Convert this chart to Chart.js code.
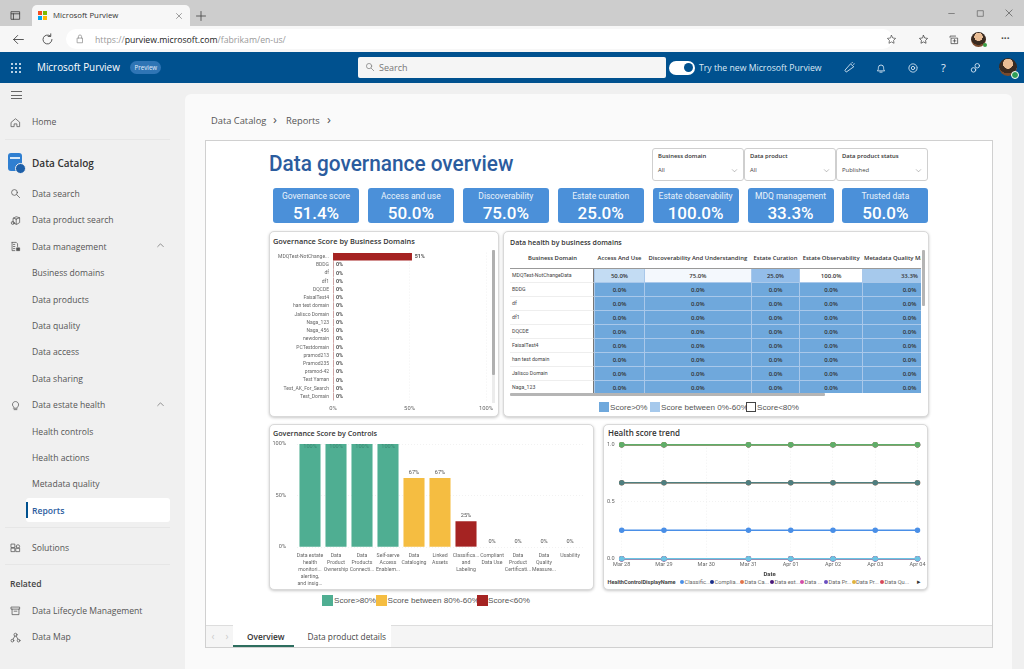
<!DOCTYPE html>
<html lang="en">
<head>
<meta charset="utf-8">
<title>Data governance overview</title>
<script src="https://cdn.jsdelivr.net/npm/chart.js"></script>
<style>
  html, body { margin: 0; padding: 0; background: #f0f0f0; overflow: hidden; }
  #page { position: relative; width: 1024px; height: 669px; overflow: hidden; font-family: "Open Sans", sans-serif; color: #444; }
  #page div, #page canvas, #page svg { position: absolute; }
  .t { white-space: nowrap; transform: translateY(-50%); line-height: 1.2; }
  .card { background: #fff; border: 1px solid #d9d9d9; border-radius: 5px; box-shadow: 0 1px 3px rgba(0,0,0,.22); box-sizing: border-box; }
  .kpi { background: #4b90d9; border-radius: 3px; color: #fff; text-align: center; font-family: Roboto, sans-serif; }
  .filter { background: #fff; border: 1px solid #cfcfcf; border-radius: 3px; box-sizing: border-box; }
  #healthTable { border-collapse: separate; border-spacing: 0; table-layout: fixed; font-size: 6px; color: #333; line-height: 1; }
  #healthTable th { font-weight: 600; font-size: 5.900px; height: 19px; box-sizing: border-box; padding: 0 0 0 1px; text-align: center; white-space: nowrap; overflow: hidden; border-bottom: 1px solid #999; color: #333; }
  #healthTable th:last-child { text-align: left; padding-left: 2px; }
  #healthTable td { height: 14px; box-sizing: border-box; padding: 0; text-align: center; font-weight: 600; border-bottom: 1px solid #a9c8ea; border-left: 1px solid #a9c8ea; }
  #healthTable td:first-child { font-family: Roboto, sans-serif; font-size: 5.200px; text-align: left; font-weight: 400; padding-left: 2px; border-left: 0; border-right: 1px solid #777; border-bottom: 1px solid #eee; background: #fff; color: #444; }
</style>
</head>
<body>
<div id="page"></div>
<script>
// ---- chart values ----
const domainNames = ['MDQTest-NotChange...', 'BDDG', 'df', 'df1', 'DQCDE', 'FaisalTest4', 'han test domain', 'Jalisco Domain', 'Naga_123', 'Naga_456', 'newdomain', 'PCTestdomain', 'pramod213', 'Pramod235', 'pramod-42', 'Test Yaman', 'Test_AK_For_Search', 'Test_Domain'];
const domainScores = [51.4, 0, 0, 0, 0, 0, 0, 0, 0, 0, 0, 0, 0, 0, 0, 0, 0, 0];
const domainTicks = [0, 50, 100];

const controlLabels = [
  ['Data estate', 'health', 'monitori...', 'alerting,', 'and insig...'],
  ['Data', 'Product', 'Ownership'],
  ['Data', 'Products', 'Connecti...'],
  ['Self-serve', 'Access', 'Enablem...'],
  ['Data', 'Cataloging'],
  ['Linked', 'Assets'],
  ['Classifica...', 'and', 'Labeling'],
  ['Compliant', 'Data Use'],
  ['Data', 'Product', 'Certificati...'],
  ['Data', 'Quality', 'Measure...'],
  ['Usability']
];
const controlScores = [100, 100, 100, 100, 67, 67, 25, 0, 0, 0, 0];

const trendDates = ['Mar 28', 'Mar 29', 'Mar 30', 'Mar 31', 'Apr 01', 'Apr 02', 'Apr 03', 'Apr 04'];
const classificationTrend = [0.25, 0.25, null, 0.25, 0.25, 0.25, 0.25, 0.25];
const complianceTrend = [0, 0, null, 0, 0, 0, 0, 0];
const catalogingTrend = [0.667, 0.667, null, 0.667, 0.667, 0.667, 0.667, 0.667];
const estateTrend = [1, 1, null, 1, 1, 1, 1, 1];
const certificationTrend = [0, 0, null, 0, 0, 0, 0, 0];
const ownershipTrend = [1, 1, null, 1, 1, 1, 1, 1];
const connectionTrend = [1, 1, null, 1, 1, 1, 1, 1];
const qualityTrend = [0, 0, null, 0, 0, 0, 0, 0];
const linkedTrend = [0.667, 0.667, null, 0.667, 0.667, 0.667, 0.667, 0.667];
const selfServeTrend = [1, 1, null, 1, 1, 1, 1, 1];
const usabilityTrend = [0, 0, null, 0, 0, 0, 0, 0];
const trendLegend = ['Classific...', 'Complia...', 'Data Ca...', 'Data est...', 'Data ...', 'Data Pr...', 'Data Pr...', 'Data Qu...'];

const tableColumns = ['Business Domain', 'Access And Use', 'Discoverability And Understanding', 'Estate Curation', 'Estate Observability', 'Metadata Quality Management'];
const tableDomains = ['MDQTest-NotChangeData', 'BDDG', 'df', 'df1', 'DQCDE', 'FaisalTest4', 'han test domain', 'Jalisco Domain', 'Naga_123'];
const accessScores = [50, 0, 0, 0, 0, 0, 0, 0, 0];
const discoverScores = [75, 0, 0, 0, 0, 0, 0, 0, 0];
const curationScores = [25, 0, 0, 0, 0, 0, 0, 0, 0];
const observabilityScores = [100, 0, 0, 0, 0, 0, 0, 0, 0];
const metadataScores = [33.3, 0, 0, 0, 0, 0, 0, 0, 0];

const kpiNames = ['Governance score', 'Access and use', 'Discoverability', 'Estate curation', 'Estate observability', 'MDQ management', 'Trusted data'];
const kpiValues = ['51.4%', '50.0%', '75.0%', '25.0%', '100.0%', '33.3%', '50.0%'];

// ---- page helpers ----
const page = document.getElementById('page');

function box(x, y, w, h, css, cls) {
    const d = document.createElement('div');
    d.style.cssText = `left:${x}px;top:${y}px;width:${w}px;height:${h}px;${css || ''}`;
    if (cls) d.className = cls;
    page.appendChild(d);
    return d;
}

// y is the vertical centre of the text
function text(x, y, str, css) {
    const d = document.createElement('div');
    d.className = 't';
    d.style.cssText = `left:${x}px;top:${y}px;${css || ''}`;
    d.textContent = str;
    page.appendChild(d);
    return d;
}

function icon(x, y, size, body, color) {
    const wrap = document.createElement('div');
    wrap.style.cssText = `left:${x - size / 2}px;top:${y - size / 2}px;width:${size}px;height:${size}px;`;
    wrap.innerHTML = `<svg viewBox="0 0 16 16" width="${size}" height="${size}" style="left:0;top:0" fill="none" stroke="${color || '#555'}" stroke-width="1.1" stroke-linecap="round" stroke-linejoin="round">${body}</svg>`;
    page.appendChild(wrap);
}

const icons = {
    home: '<path d="M2 7.5 8 2.5l6 5V14h-4v-4H6v4H2z"/>',
    search: '<circle cx="6.5" cy="6.5" r="4.2"/><path d="m10 10 4 4"/>',
    cube: '<path d="M5 4.5 9 2.5l5 1.5v7l-4 2.5-5-1.5zM9 6l5-2M9 6v7.5M9 6 5 4.5"/><circle cx="4" cy="11.5" r="2.2"/>',
    mgmt: '<path d="M3 2h6l2 2v4M3 2v12h4M5 5h2M5 8h2M5 11h2"/><path d="M10 10h4v4h-4z" fill="#555"/>',
    bulb: '<path d="M5.5 10.5a4.5 4.5 0 1 1 5 0V12h-5zM6 14h4"/>',
    solutions: '<path d="M2 3h5v5H2zM2 9h5v5H2zM9 9h5v5H9zM9 6.500a2.500 2.500 0 1 1 5 0 2.500 2.500 0 0 1-5 0"/>',
    archive: '<path d="M2 3h12v3H2zM3 6v8h10V6M6 9h4"/>',
    map: '<circle cx="8" cy="4" r="2.200"/><circle cx="3.500" cy="12.500" r="2"/><circle cx="12.500" cy="12.500" r="2"/><path d="M7 6 4.500 10.500M9 6l2.500 4.500"/>',
    chevUp: '<path d="m3 10 5-5 5 5"/>',
    chevDown: '<path d="m3 6 5 5 5-5"/>',
    close: '<path d="m3 3 10 10M13 3 3 13"/>',
    plus: '<path d="M8 2v12M2 8h12"/>',
    back: '<path d="M14 8H2m5-5L2 8l5 5"/>',
    reload: '<path d="M13.500 8A5.500 5.500 0 1 1 11.500 3.700M12 1v3.200H8.800"/>',
    lock: '<path d="M4 6.500h8V14H4zM5.500 6.500V4a2.500 2.500 0 0 1 5 0v2.500"/>',
    star: '<path d="m8 2 1.800 3.800 4.200.6-3 2.900.7 4.200L8 11.500l-3.700 2 .7-4.200-3-2.900 4.200-.6z"/>',
    bell: '<path d="M3.500 11.500c1-1 1-2 1-4a3.500 3.500 0 0 1 7 0c0 2 0 3 1 4zM6.500 13.500h3"/>',
    gear: '<circle cx="8" cy="8" r="2.200"/><circle cx="8" cy="8" r="5.500" stroke-dasharray="2.400 1"/>',
    people: '<circle cx="6" cy="10.500" r="3"/><circle cx="11" cy="5" r="3"/>',
    megaphone: '<path d="M4 13 2.500 11 10 2.500l4 3.500zM11.500 1.500l1-1M14 3l1-.5"/>',
    collections: '<path d="M3 5V3h8M5 6h9v8H5zM9.500 8v4M7.500 10h4"/>',
    panel: '<path d="M2 2.500h12v11H2zM2 5.500h12M5 5.500v8"/>',
    minus: '<path d="M3 8h10"/>',
    restore: '<path d="M3 3h10v10H3z"/>'
};

function avatar(x, y, r) {
    const d = box(x - r, y - r, r * 2, r * 2, 'border-radius:50%;background:radial-gradient(circle at 50% 32%,#e9bd95 0 32%,#3a2a20 34% 62%,#7a4a2c 64%);');
    return d;
}

// ---- browser frame ----
box(0, 0, 1024, 26, 'background:#cdcdcd;');
box(32, 5, 158, 22, 'background:#f7f7f7;border-radius:5px 5px 0 0;');
icon(15, 15, 11, icons.panel, '#333');
box(38, 11, 4, 4, 'background:#f25022;');
box(43, 11, 4, 4, 'background:#7fba00;');
box(38, 16, 4, 4, 'background:#00a4ef;');
box(43, 16, 4, 4, 'background:#ffb900;');
text(53, 15.5, 'Microsoft Purview', 'font-size:7.800px;color:#333;');
icon(179, 15.500, 8, icons.close, '#555');
icon(201, 15.500, 12, icons.plus, '#444');
icon(951, 13, 9, icons.minus, '#555');
icon(980, 13, 9, icons.restore, '#555');
icon(1009, 13, 10, icons.close, '#555');
box(0, 26, 1024, 26, 'background:#f7f7f7;');
box(66, 29, 827, 20, 'background:#fff;border-radius:10px;');
icon(18, 39, 13, icons.back, '#444');
icon(47, 39, 13, icons.reload, '#444');
icon(80, 39, 10, icons.lock, '#888');
const url = text(95, 39.500, '', 'font-size:8.700px;color:#999;');
url.innerHTML = 'https://<span style="color:#222">purview.microsoft.com</span>/fabrikam/en-us/';
icon(891, 39, 11, icons.star, '#555');
icon(923, 39, 11, icons.star, '#444');
icon(953, 39, 11, icons.collections, '#444');
avatar(978, 39, 7.500);
box(983, 43, 4, 4, 'background:#3a9d46;border-radius:50%;');
text(1001, 38, '···', 'font-size:10px;color:#444;font-weight:700;');

// ---- purview header ----
box(0, 52, 1024, 31, 'background:#00518f;');
for (let i = 0; i < 3; i++) {
    for (let j = 0; j < 3; j++) {
        box(11 + i * 4, 63 + j * 4, 1.500, 1.500, 'background:#dce9f5;border-radius:50%;');
    }
}
text(37, 68, 'Microsoft Purview', 'font-size:9.900px;color:#fff;font-weight:500;');
box(130, 61, 31, 13, 'background:#2f75b5;border-radius:7px;');
text(134.500, 67.500, 'Preview', 'font-size:6.200px;color:#e6f0fa;');
box(358, 57, 308, 21, 'background:#f5f5f5;border-radius:2px;');
icon(370, 67, 10, icons.search, '#777');
text(379, 67.500, 'Search', 'font-size:9px;color:#777;');
box(669, 60.500, 26, 14, 'background:#fff;border-radius:7px;');
box(684, 63, 9, 9, 'background:#00518f;border-radius:50%;');
text(699, 68, 'Try the new Microsoft Purview', 'font-size:8.700px;color:#dce9f5;');
icon(849, 68, 12, icons.megaphone, '#e6f0fa');
icon(881, 67.500, 12, icons.bell, '#e6f0fa');
icon(913, 67.500, 12, icons.gear, '#e6f0fa');
text(941, 67.500, '?', 'font-size:11px;color:#e6f0fa;');
icon(975, 67.500, 12, icons.people, '#e6f0fa');
avatar(1008, 67, 9);
box(1011, 71, 6, 6, 'background:#2f9e56;border-radius:50%;border:.5px solid #fff;');

// ---- side navigation ----
box(10.500, 91, 11, 1, 'background:#666;');
box(10.500, 94.500, 11, 1, 'background:#666;');
box(10.500, 98, 11, 1, 'background:#666;');
const navItems = [
    ['Home', 122, icons.home], ['Data search', 193.500, icons.search], ['Data product search', 220, icons.cube],
    ['Data management', 246.500, icons.mgmt], ['Business domains', 273], ['Data products', 299.500],
    ['Data quality', 326], ['Data access', 352], ['Data sharing', 378.500],
    ['Data estate health', 405, icons.bulb], ['Health controls', 431.500], ['Health actions', 458],
    ['Metadata quality', 484], ['Solutions', 547.500, icons.solutions],
    ['Data Lifecycle Management', 610.500, icons.archive], ['Data Map', 637, icons.map]
];
navItems.forEach(function(item) {
    text(32, item[1], item[0], 'font-size:8.600px;color:#555;');
    if (item[2]) icon(15.500, item[1], 11, item[2], '#555');
});
box(5, 139, 165, 1, 'background:#e6e6e6;');
box(5, 527, 165, 1, 'background:#e6e6e6;');
box(5, 564, 165, 1, 'background:#e6e6e6;');
box(7.500, 153, 14, 18, 'background:#2f7fd1;border-radius:3px;');
box(9.500, 157, 10, 2, 'background:#d8e9f8;');
box(15, 163, 9, 9, 'background:#1d5fa8;border-radius:50%;border:1px solid #f0f0f0;');
text(32, 163, 'Data Catalog', 'font-size:10px;color:#333;font-weight:600;');
icon(160, 245.500, 9, icons.chevUp, '#555');
icon(160, 404, 9, icons.chevUp, '#555');
box(26, 498, 144, 24, 'background:#fff;border-radius:3px;');
box(26, 502, 2, 16, 'background:#00518f;');
text(32, 510.500, 'Reports', 'font-size:8.600px;color:#2b5c9e;font-weight:600;');
text(10, 584, 'Related', 'font-size:8.600px;color:#444;font-weight:600;');

// ---- main panel ----
box(185, 94, 827, 575, 'background:#fafafa;border-radius:6px 6px 0 0;');
text(211, 120.500, 'Data Catalog', 'font-size:9.300px;color:#555;');
text(273, 120, '›', 'font-size:13px;color:#555;');
text(286, 120.500, 'Reports', 'font-size:9.300px;color:#555;');
text(327, 120, '›', 'font-size:13px;color:#555;');
box(205, 140, 788, 508, 'background:#fff;border:1px solid #d0d0d0;box-sizing:border-box;');
box(206, 625, 786, 22, 'background:#f5f5f5;border-top:1px solid #ddd;box-sizing:border-box;');
box(233, 625, 61, 22, 'background:#fff;border-bottom:2px solid #2d6e5f;box-sizing:border-box;');
box(294, 625, 97, 22, 'background:#fff;');
text(247, 636.500, 'Overview', 'font-size:8.300px;color:#333;font-weight:600;');
text(307.500, 636.500, 'Data product details', 'font-size:8.300px;color:#444;');
text(211.500, 636, '‹', 'font-size:10px;color:#ccc;');
text(225.500, 636, '›', 'font-size:10px;color:#ccc;');

// ---- report header ----
text(269, 164, 'Data governance overview', 'font-size:22px;color:#2b5c9e;font-family:Roboto;font-weight:500;transform-origin:left center;transform:translateY(-50%) scaleX(.945);');
const filters = [['Business domain', 'All'], ['Data product', 'All'], ['Data product status', 'Published']];
filters.forEach(function(f, i) {
    const x = 652 + i * 92;
    box(x, 148, 92, 33, '', 'filter');
    text(x + 6, 157, f[0], 'font-size:5.900px;color:#333;font-weight:600;');
    text(x + 6, 170.500, f[1], 'font-size:5.900px;color:#444;');
    icon(x + 82, 170, 7, icons.chevDown, '#777');
});
kpiNames.forEach(function(name, i) {
    const x = 273 + i * 94.900;
    box(x, 188, 86, 35, '', 'kpi');
    text(x + 43, 196, name, 'font-size:8.500px;color:#eaf3fb;font-family:Roboto;transform:translate(-50%,-50%);');
    text(x + 43, 212.500, kpiValues[i], 'font-size:17px;color:#fff;font-family:Roboto;font-weight:500;transform:translate(-50%,-50%);');
});

// ---- chart cards ----
box(269, 231, 230, 186, '', 'card');
box(503, 231, 426, 186, '', 'card');
box(269, 424, 325, 166, '', 'card');
box(603, 424, 325, 166, '', 'card');
const cardTitle = 'color:#333;font-weight:600;';
text(273, 240.500, 'Governance Score by Business Domains', cardTitle + 'font-size:7.400px;');
text(510, 243, 'Data health by business domains', cardTitle + 'font-size:7px;');
text(273, 433, 'Governance Score by Controls', cardTitle + 'font-size:7.200px;');
text(608, 433, 'Health score trend', cardTitle + 'font-size:8px;');

// heat table, colour follows the score
const cellStops = { 0: '#6fa8dc', 25: '#93bde9', 33.3: '#a6c9ec', 50: '#c3dcf3', 75: '#f4f8fd', 100: '#ffffff' };
const tableWrap = box(510, 250, 411, 143, 'overflow:hidden;');
const columnWidths = [84, 50, 106.700, 48.600, 62.700, 94];
const scoreColumns = [accessScores, discoverScores, curationScores, observabilityScores, metadataScores];
let tableHtml = '<table id="healthTable" style="width:' + columnWidths.reduce(function(a, b) { return a + b; }) + 'px"><colgroup>';
columnWidths.forEach(function(w) { tableHtml += '<col style="width:' + w + 'px">'; });
tableHtml += '</colgroup><tr>';
tableColumns.forEach(function(c) { tableHtml += '<th>' + c + '</th>'; });
tableHtml += '</tr>';
tableDomains.forEach(function(name, row) {
    tableHtml += '<tr><td>' + name + '</td>';
    scoreColumns.forEach(function(col) {
        tableHtml += '<td style="background:' + cellStops[col[row]] + '">' + col[row].toFixed(1) + '%</td>';
    });
    tableHtml += '</tr>';
});
tableWrap.innerHTML = tableHtml + '</table>';
box(922, 250, 2.500, 56, 'background:#b5b5b5;border-radius:1px;');
box(510, 393, 315, 2.500, 'background:#b5b5b5;border-radius:1px;');
box(491.500, 250, 3, 153, 'background:#ececec;');
box(491.500, 250, 3, 125, 'background:#b0b0b0;border-radius:1px;');

// legends under the cards
const legendFont = 'font-size:8.100px;color:#555;font-family:"Liberation Sans";';
box(599, 402, 10, 10, 'background:#6fa8dc;');
text(610, 407.500, 'Score>0%', legendFont);
box(650, 402, 10, 10, 'background:#a6c9ec;');
text(661, 407.500, 'Score between 0%-60%', legendFont);
box(746, 402, 10, 10, 'background:#fff;border:1px solid #444;box-sizing:border-box;');
text(757, 407.500, 'Score<80%', legendFont);
box(322, 595, 11, 11, 'background:#4fae92;');
text(334, 600.500, 'Score>80%', legendFont);
box(376, 595, 11, 11, 'background:#f5bd41;');
text(387.500, 600.500, 'Score between 80%-60%', legendFont);
box(476.500, 595, 11, 11, 'background:#a52322;');
text(488, 600.500, 'Score<60%', legendFont);

// trend legend
text(607.500, 582, 'HealthControlDisplayName', 'font-size:5.600px;color:#444;font-weight:700;font-family:Roboto;');
const legendColors = ['#4a8fe7', '#1a2f8a', '#e2744a', '#4a1a7a', '#d14da8', '#6a4fc0', '#e0b23c', '#d6485a'];
const legendOffsets = [680, 710, 740, 770, 800, 824, 851.500, 880];
trendLegend.forEach(function(name, i) {
    box(legendOffsets[i], 580, 4, 4, 'border-radius:50%;background:' + legendColors[i] + ';');
    text(legendOffsets[i] + 4.500, 582, name, 'font-size:5.700px;color:#666;font-family:Roboto;');
});
text(917, 581.500, '▸', 'font-size:7px;color:#333;');

// ---- charts ----
function addCanvas(id, x, y, w, h) {
    const c = document.createElement('canvas');
    c.id = id;
    c.width = w;
    c.height = h;
    c.style.cssText = `left:${x}px;top:${y}px;width:${w}px;height:${h}px;`;
    page.appendChild(c);
    return c;
}

Chart.defaults.font.family = 'Roboto, sans-serif';
Chart.defaults.animation = false;
Chart.defaults.responsive = false;
Chart.defaults.plugins.legend.display = false;
Chart.defaults.plugins.tooltip.enabled = false;

// axis boxes keep a fixed size so the plot sits where the reference has it
function fixAxis(size) {
    return function(s) {
        if (s.isHorizontal()) s.height = size; else s.width = size;
        s.paddingTop = s.paddingBottom = s.paddingLeft = s.paddingRight = 0;
    };
}

// value text next to the bars
const barValues = {
    id: 'barValues',
    afterDatasetsDraw(chart, args, opts) {
        const ctx = chart.ctx;
        const meta = chart.getDatasetMeta(0);
        const values = chart.data.datasets[0].data;
        ctx.save();
        ctx.font = opts.font;
        meta.data.forEach(function(el, i) {
            const label = Math.round(values[i]) + '%';
            if (opts.horizontal) {
                ctx.fillStyle = opts.color;
                ctx.textAlign = 'left';
                ctx.textBaseline = 'middle';
                ctx.fillText(label, el.x + 3, el.y);
            } else {
                const inside = values[i] >= 100;
                ctx.fillStyle = inside ? '#3d8a74' : opts.color;
                ctx.textAlign = 'center';
                ctx.textBaseline = 'middle';
                ctx.fillText(label, el.x, inside ? el.y + 2.500 : el.y - 5.500);
            }
        });
        ctx.restore();
    }
};

function scoreColor(v) {
    if (v >= 80) return '#4fae92';
    if (v >= 60) return '#f5bd41';
    return '#a52322';
}

new Chart(addCanvas('domainChart', 270, 250, 226, 165).getContext('2d'), {
    type: 'bar',
    data: {
        labels: domainNames,
        datasets: [{ data: domainScores, backgroundColor: '#a52322', barThickness: 6.700 }]
    },
    options: {
        indexAxis: 'y',
        layout: { padding: { top: 2.600, right: 10, bottom: 0, left: 0 } },
        plugins: { barValues: { font: '700 5.400px Roboto', color: '#555', horizontal: true } },
        scales: {
            x: {
                min: 0, max: 100,
                afterBuildTicks(s) { s.ticks = domainTicks.map(function(v) { return { value: v }; }); },
                afterFit: fixAxis(14.200),
                grid: { color: '#ececec', lineWidth: 0.7, drawTicks: false },
                border: { display: false, dash: [1, 2] },
                ticks: { padding: 4, maxRotation: 0, font: { size: 5.800 }, color: '#666', callback: function(v) { return v + '%'; } }
            },
            y: {
                afterFit: fixAxis(63),
                grid: { display: false, drawTicks: false },
                border: { color: '#e4e4e4' },
                ticks: { autoSkip: false, padding: 4, font: { size: 5 }, color: '#666' }
            }
        }
    },
    plugins: [barValues]
});

new Chart(addCanvas('controlChart', 270, 440, 322, 148).getContext('2d'), {
    type: 'bar',
    data: {
        labels: controlLabels,
        datasets: [{
            data: controlScores,
            backgroundColor: controlScores.map(scoreColor),
            barPercentage: 0.810,
            categoryPercentage: 1
        }]
    },
    options: {
        layout: { padding: { top: 4, right: 9, bottom: 1, left: 0 } },
        plugins: { barValues: { font: '5.600px Roboto', color: '#555', horizontal: false } },
        scales: {
            x: {
                afterFit: fixAxis(40),
                grid: { display: false, drawTicks: false },
                border: { display: false },
                ticks: { autoSkip: false, maxRotation: 0, minRotation: 0, padding: 5, font: { size: 5.200, lineHeight: 1.340 }, color: '#666' }
            },
            y: {
                min: 0, max: 100,
                afterFit: fixAxis(27),
                grid: { color: '#ececec', lineWidth: 0.7, drawTicks: false },
                border: { display: false, dash: [1, 2] },
                ticks: { stepSize: 50, padding: 11, font: { size: 5.600 }, color: '#666', callback: function(v) { return v + '%'; } }
            }
        }
    },
    plugins: [barValues]
});

function trendSet(label, data, color) {
    return {
        label: label, data: data, borderColor: color, backgroundColor: color,
        borderWidth: 1.500, pointRadius: 2, spanGaps: true, clip: false, tension: 0
    };
}

new Chart(addCanvas('trendChart', 606, 438, 322, 140).getContext('2d'), {
    type: 'line',
    data: {
        labels: trendDates,
        // chart.js paints the first dataset last, so these go in back to front
        datasets: [
            trendSet('Classification and Labeling', classificationTrend, '#4a8fe7'),
            trendSet('Compliant Data Use', complianceTrend, '#1a2f8a'),
            trendSet('Data Cataloging', catalogingTrend, '#e2744a'),
            trendSet('Data estate health', estateTrend, '#4a1a7a'),
            trendSet('Data Product Certification', certificationTrend, '#d14da8'),
            trendSet('Data Product Ownership', ownershipTrend, '#6a4fc0'),
            trendSet('Data Products Connection', connectionTrend, '#e0b23c'),
            trendSet('Data Quality Measurement', qualityTrend, '#d6485a'),
            trendSet('Linked Assets', linkedTrend, '#4f7f80'),
            trendSet('Self-serve Access Enablement', selfServeTrend, '#5fae6a'),
            trendSet('Usability', usabilityTrend, '#6cc4e4')
        ].reverse()
    },
    options: {
        layout: { padding: { top: 6.700, right: 10.500, bottom: 0, left: 0 } },
        scales: {
            x: {
                offset: false,
                afterFit: fixAxis(19.300),
                grid: { color: '#ececec', lineWidth: 0.7, drawTicks: false },
                border: { display: false, dash: [1, 2] },
                title: { display: true, text: 'Date', font: { size: 6, weight: '700' }, color: '#444', padding: { top: 0, bottom: 0 } },
                ticks: { maxRotation: 0, padding: 3, font: { size: 5.500 }, color: '#666' }
            },
            y: {
                min: 0, max: 1,
                afterFit: fixAxis(15.700),
                grid: { color: '#ececec', lineWidth: 0.7, drawTicks: false },
                border: { display: false, dash: [1, 2] },
                ticks: { stepSize: 0.5, padding: 7, font: { size: 5.600 }, color: '#666', callback: function(v) { return v.toFixed(1); } }
            }
        }
    }
});
</script>
</body>
</html>
